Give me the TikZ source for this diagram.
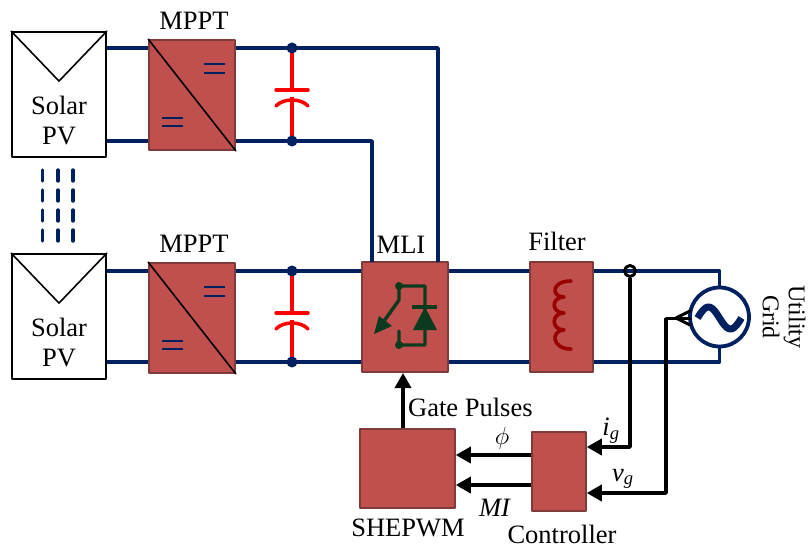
\documentclass[tikz,border=0pt]{standalone}
\usepackage{fontspec}
\setmainfont{Liberation Serif}
\usepackage{tikz}
\usetikzlibrary{arrows.meta}
\usetikzlibrary{calc}
\definecolor{boxred}{HTML}{C0504D}
\definecolor{boxedge}{HTML}{7F3B39}
\definecolor{wirenavy}{HTML}{002060}
\definecolor{switchgreen}{HTML}{0B3A1E}
\definecolor{coilred}{HTML}{990000}
\begin{document}
\begin{tikzpicture}[line cap=round,line join=round,>={Triangle[length=15pt,width=16pt]},x=1pt,y=-1pt,
  wire/.style={color=wirenavy,line width=3.4pt,line cap=butt},
  signal/.style={color=black,line width=3.4pt,line cap=butt},
  redbox/.style={draw=boxedge,fill=boxred,line width=1.5pt,inner sep=0pt},
  pvbox/.style={draw=black,fill=white,line width=1.8pt,inner sep=0pt,minimum width=94pt,minimum height=125pt},
  mpptbox/.style={redbox,minimum width=86pt,minimum height=110pt},
  txt/.style={inner sep=0pt,font=\fontsize{26.5}{30}\selectfont}]
\useasboundingbox (0,0) rectangle (809,548);
% solar strings with converter and capacitor
\foreach \n/\pvy/\my/\yt/\yb/\lab in {A/94.5/95/48/141/21,B/316.5/318/271/362/244}{
\node[pvbox] (pv\n) at (59,\pvy) {};
\node[mpptbox] (mppt\n) at (192,\my) {};
\coordinate (top\n) at (292,\yt);
\coordinate (bot\n) at (292,\yb);
\draw[wire] (pv\n.east |- top\n) -- (mppt\n.west |- top\n);
\draw[wire] (pv\n.east |- bot\n) -- (mppt\n.west |- bot\n);
\draw[line width=1.6pt] (pv\n.north west) -- ($(pv\n.north)+(0,50)$) -- (pv\n.north east);
\node[txt] (solar\n) at ($(pv\n.center)+(0,11)$) {Solar};
\node[txt] (pvtxt\n) at ($(pv\n.center)+(0,42)$) {PV};
\node[txt] (mpptlab\n) at (194,\lab) {MPPT};
\draw[line width=1.6pt] (mppt\n.north west) -- (mppt\n.south east);
\draw[color=wirenavy,line width=1.5pt,line cap=butt] ($(mppt\n.center)+(12,-31)$) -- +(21,0) ($(mppt\n.center)+(12,-22)$) -- +(21,0);
\draw[color=wirenavy,line width=1.5pt,line cap=butt] ($(mppt\n.center)+(-30,23)$) -- +(21,0) ($(mppt\n.center)+(-30,31)$) -- +(21,0);
% capacitor
\coordinate (plate\n) at ($(top\n)+(0,42)$);
\coordinate (arc\n) at ($(top\n)+(0,49)$);
\draw[color=red,line width=3.5pt,line cap=butt] (top\n) -- (plate\n) (arc\n) -- (bot\n);
\draw[color=red,line width=3.5pt] ($(plate\n)+(-16,0)$) -- ($(plate\n)+(16,0)$);
\draw[color=red,line width=3.5pt] ($(arc\n)+(-16,9)$) .. controls ($(arc\n)+(-9,1)$) and ($(arc\n)+(9,1)$) .. ($(arc\n)+(16,9)$);
\fill[color=wirenavy] (top\n) circle (5.5pt) (bot\n) circle (5.5pt);
}
\foreach \x in {42.5,58,73}
\draw[color=wirenavy,line width=3.4pt,dash pattern=on 11pt off 9pt] (\x,170) -- (\x,242);
% inverter, filter, grid
\node[redbox,minimum width=86pt,minimum height=110pt] (mli) at (405,317) {};
\node[redbox,minimum width=63pt,minimum height=110pt] (filter) at (561.5,317) {};
\node[draw=wirenavy,line width=3.8pt,circle,fill=white,minimum size=59pt,inner sep=0pt] (grid) at (719.5,317) {};
\node[redbox,minimum width=95pt,minimum height=79pt] (shepwm) at (407.5,468.5) {};
\node[redbox,minimum width=54pt,minimum height=79pt] (ctrl) at (559,471.5) {};
\coordinate (vtap) at (666,318);
\draw[wire] (mpptA.east |- topA) -- (438,48) -- (438,262);
\draw[wire] (mpptA.east |- botA) -- (372,141) -- (372,262);
\draw[wire] (mpptB.east |- topB) -- (mli.west |- topB);
\draw[wire] (mpptB.east |- botB) -- (mli.west |- botB);
\draw[wire] (mli.east |- topB) -- (filter.west |- topB);
\draw[wire] (mli.east |- botB) -- (filter.west |- botB);
\draw[wire] (filter.east |- topB) -- (719.5,271) -- (grid.north);
\draw[wire] (filter.east |- botB) -- (719.5,362) -- (grid.south);
\draw[color=wirenavy,line width=7pt,line cap=butt,samples=40,domain=-1:1,smooth] plot ({719.5+22*\x},{318+11*sin(180*\x)});
\node[circle,draw=black,line width=3pt,minimum size=11pt,inner sep=0pt] (sense) at (630,271) {};
% switch symbol inside the inverter
\draw[color=switchgreen,line width=3.4pt] (377,331) -- (399,300) -- (399,286) -- (425,286) -- (425,345) -- (399,345) -- (399,331);
\fill[color=switchgreen] (399,286) circle (4pt) (399,345) circle (4pt);
\fill[color=switchgreen] (374,334) -- (379,316) -- (392,326) -- cycle;
\fill[color=switchgreen] (413,330) -- (437,330) -- (425,307) -- cycle;
\draw[color=switchgreen,line width=3.4pt,line cap=butt] (412,307) -- (437,307);
% inductor
\draw[color=coilred,line width=3.6pt] (571,281) .. controls (551,281) and (551,297) .. (564,297) .. controls (551,297) and (551,313) .. (564,313) .. controls (551,313) and (551,330) .. (564,330) .. controls (551,330) and (551,349) .. (571,349);
% control signals
\draw[signal,->] (shepwm.north -| 403,429) -- (403,373);
\draw[signal,->] (ctrl.west |- 0,455) -- (shepwm.east |- 0,455);
\draw[signal,->] (ctrl.west |- 0,485) -- (shepwm.east |- 0,485);
\draw[signal,->] (sense.south) -- (630,447) -- (ctrl.east |- 0,447);
\draw[signal,->] (vtap) -- (666,493) -- (ctrl.east |- 0,493);
\draw[color=black,line width=3pt] (vtap) -- (690,318);
\draw[color=black,line width=3pt] (690,311) -- (676,318) -- (690,325);
% labels
\node[txt] (mlilab) at (401,245) {MLI};
\node[txt] (filterlab) at (557,241) {Filter};
\node[txt,anchor=west] (gatelab) at (408,407) {Gate Pulses};
\node[txt,font=\fontsize{30}{30}\selectfont] (philab) at (502,438) {$\phi$};
\node[txt] (iglab) at (611,431) {\textit{i}\textsubscript{\textit{g}}};
\node[txt] (vglab) at (623,479) {\textit{v}\textsubscript{\textit{g}}};
\node[txt] (milab) at (495,508) {\textit{MI}};
\node[txt] (shepwmlab) at (408,528) {SHEPWM};
\node[txt] (ctrllab) at (562,534) {Controller};
\node[txt,rotate=-90,align=center,font=\fontsize{24}{26}\selectfont] (gridlab) at (784,317) {Utility\\Grid};
\end{tikzpicture}
\end{document}
